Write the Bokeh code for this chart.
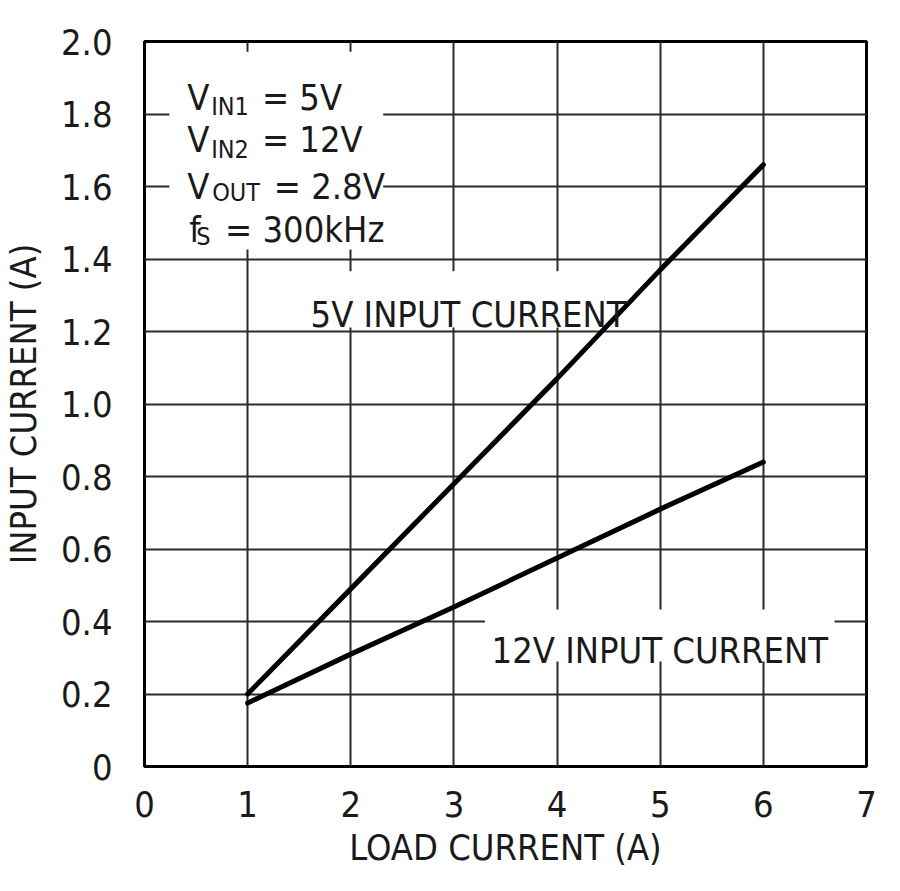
from bokeh.plotting import figure
from bokeh.models import FixedTicker, Range1d, BoxAnnotation, Label
from bokeh.embed import file_html
from bokeh.resources import INLINE

# ---- data ----
load_current = [1, 2, 3, 4, 5, 6]
input_5v = [0.20, 0.49, 0.78, 1.07, 1.37, 1.66]
input_12v = [0.175, 0.31, 0.44, 0.575, 0.71, 0.84]
x_ticks = [0, 1, 2, 3, 4, 5, 6, 7]
x_tick_labels = ["0", "1", "2", "3", "4", "5", "6", "7"]
y_ticks = [0, 0.2, 0.4, 0.6, 0.8, 1.0, 1.2, 1.4, 1.6, 1.8, 2.0]
y_tick_labels = ["0", "0.2", "0.4", "0.6", "0.8", "1.0", "1.2", "1.4", "1.6", "1.8", "2.0"]

FONT = "DejaVu Sans Condensed"
TXT = "#1a1a1a"
FS = "36px"
SUB = "25px"

p = figure(width=883, height=875, output_backend="svg", toolbar_location=None,
           x_range=Range1d(0, 7), y_range=Range1d(0, 2.0),
           min_border_left=140, min_border_right=17, min_border_top=41, min_border_bottom=109)
p.background_fill_color = "white"
p.border_fill_color = "white"
p.outline_line_color = "black"
p.outline_line_width = 3

for ax in (p.xaxis[0], p.yaxis[0]):
    ax.axis_line_color = None
    ax.major_tick_line_color = None
    ax.minor_tick_line_color = None
    ax.major_label_text_font = FONT
    ax.major_label_text_font_size = FS
    ax.major_label_text_color = TXT
    ax.axis_label_text_font = FONT
    ax.axis_label_text_font_size = FS
    ax.axis_label_text_font_style = "normal"
    ax.axis_label_text_color = TXT

p.xaxis.ticker = FixedTicker(ticks=x_ticks)
p.yaxis.ticker = FixedTicker(ticks=y_ticks)
p.xaxis.major_label_overrides = dict(zip(x_ticks, x_tick_labels))
p.yaxis.major_label_overrides = dict(zip(y_ticks, y_tick_labels))
p.xaxis.axis_label = "LOAD CURRENT (A)"
p.yaxis.axis_label = "INPUT CURRENT (A)"
p.xaxis.major_label_standoff = 18
p.xaxis.axis_label_standoff = 7
p.yaxis.major_label_standoff = 26
p.yaxis.axis_label_standoff = 14

for g in (p.xgrid[0], p.ygrid[0]):
    g.grid_line_color = "#2a2a2a"
    g.grid_line_width = 2
    g.level = "image"

# white boxes behind annotations (cover grid lines)
for l, r, b, t in [(0.241, 2.314, 1.426, 1.972),
                   (1.40, 4.70, 1.211, 1.366),
                   (3.30, 6.69, 0.290, 0.433)]:
    p.add_layout(BoxAnnotation(left=l, right=r, bottom=b, top=t, fill_color="white",
                               fill_alpha=1.0, line_color=None, level="underlay"))

p.line(load_current, input_5v, line_color="black", line_width=5, line_cap="round")
p.line(load_current, input_12v, line_color="black", line_width=5, line_cap="round")

def lab(x, y, text, size=FS):
    p.add_layout(Label(x=x, y=y, text=text, text_font=FONT, text_font_size=size,
                       text_color=TXT, text_align="left", text_baseline="alphabetic"))

lab(1.61, 1.247, "5V INPUT CURRENT")
lab(3.365, 0.320, "12V INPUT CURRENT")

# condition block
lab(0.415, 1.846, "V")
lab(0.646, 1.821, "IN1", SUB)
lab(1.138, 1.846, "= 5V")
lab(0.415, 1.730, "V")
lab(0.646, 1.703, "IN2", SUB)
lab(1.138, 1.730, "= 12V")
lab(0.415, 1.600, "V")
lab(0.656, 1.583, "OUT", SUB)
lab(1.253, 1.600, "= 2.8V")
lab(0.434, 1.481, "f")
lab(0.501, 1.462, "S", SUB)
lab(0.781, 1.481, "= 300kHz")

open("out.html", "w").write(file_html(p, INLINE))
